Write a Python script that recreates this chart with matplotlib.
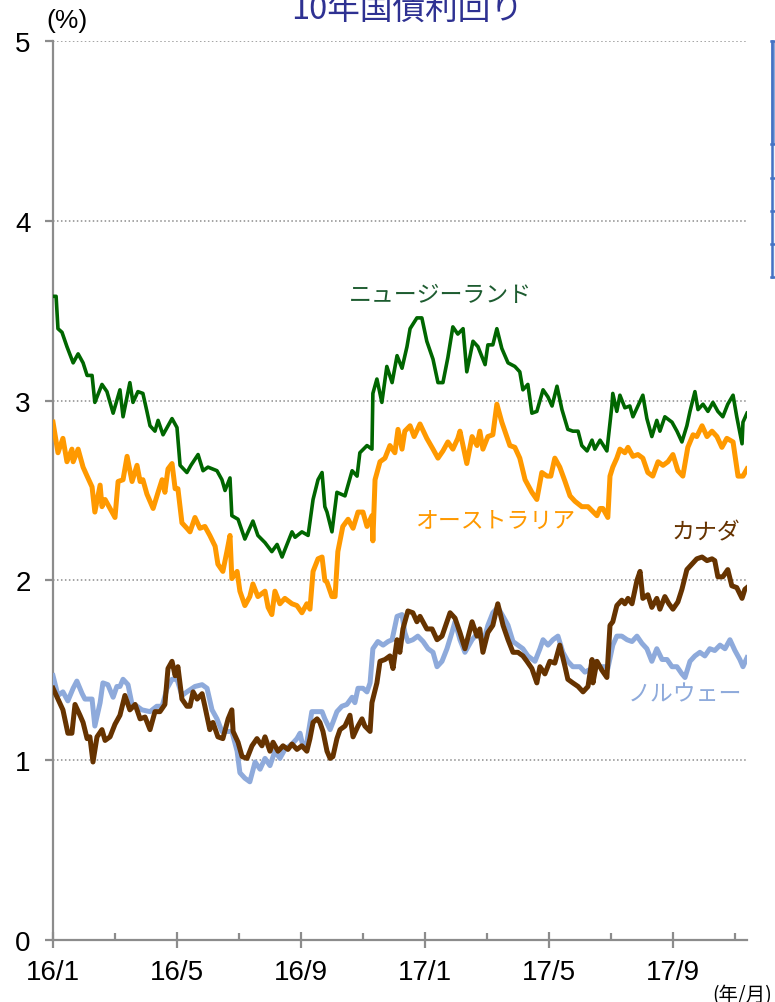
import matplotlib
matplotlib.use("Agg")
import matplotlib.pyplot as plt
from matplotlib import font_manager
from matplotlib.patches import Rectangle
from matplotlib.lines import Line2D

# ---------------- data (months since Jan-2016, yield %) ----------------
nz_month = [0.00,0.10,0.16,0.29,0.45,0.65,0.81,0.97,1.10,1.26,
            1.35,1.58,1.74,1.94,2.16,2.26,2.48,2.58,2.74,2.90,
            3.03,3.13,3.29,3.39,3.55,3.84,4.00,4.10,4.32,4.45,
            4.68,4.84,5.00,5.29,5.45,5.55,5.71,5.77,5.97,6.19,
            6.45,6.61,6.84,7.06,7.23,7.39,7.48,7.71,7.81,8.03,
            8.23,8.39,8.55,8.68,8.77,8.84,9.00,9.16,9.42,9.65,
            9.81,9.90,10.13,10.29,10.32,10.45,10.61,10.77,10.94,11.10,
            11.26,11.42,11.52,11.74,11.90,12.06,12.26,12.42,12.58,12.74,
            12.90,13.06,13.23,13.35,13.55,13.71,13.94,14.03,14.19,14.32,
            14.48,14.68,14.90,15.06,15.16,15.32,15.45,15.61,15.81,15.97,
            16.10,16.26,16.42,16.61,16.77,16.94,17.06,17.23,17.39,17.48,
            17.65,17.87,18.03,18.06,18.19,18.29,18.45,18.61,18.71,18.87,
            19.03,19.16,19.32,19.48,19.58,19.74,19.97,20.13,20.29,20.45,
            20.55,20.71,20.81,20.97,21.13,21.29,21.45,21.61,21.77,21.94,
            22.06,22.23,22.26,22.39]
nz_yield = [3.58,3.58,3.40,3.38,3.30,3.21,3.26,3.21,3.14,3.14,
            2.99,3.09,3.05,2.93,3.06,2.91,3.10,2.99,3.05,3.04,
            2.94,2.86,2.83,2.89,2.81,2.90,2.85,2.64,2.60,2.64,
            2.70,2.61,2.63,2.61,2.56,2.50,2.57,2.36,2.34,2.23,
            2.33,2.25,2.21,2.16,2.20,2.13,2.17,2.27,2.24,2.27,
            2.25,2.45,2.56,2.60,2.41,2.38,2.27,2.49,2.47,2.61,
            2.58,2.71,2.75,2.73,3.04,3.12,2.99,3.19,3.10,3.25,
            3.18,3.30,3.40,3.46,3.46,3.33,3.23,3.10,3.10,3.24,
            3.41,3.37,3.40,3.16,3.33,3.30,3.20,3.31,3.31,3.40,
            3.29,3.21,3.19,3.16,3.06,3.09,2.93,2.94,3.06,3.02,
            2.97,3.08,2.95,2.84,2.83,2.83,2.75,2.72,2.78,2.73,
            2.78,2.72,2.97,3.04,2.94,3.03,2.96,2.97,2.91,2.97,
            3.03,2.90,2.80,2.89,2.83,2.91,2.88,2.83,2.77,2.86,
            2.94,3.05,2.95,2.98,2.94,2.99,2.94,2.91,2.98,3.03,
            2.91,2.76,2.88,2.93]

au_month = [0.00,0.16,0.32,0.45,0.61,0.65,0.81,0.97,1.10,1.26,
            1.35,1.52,1.58,1.68,2.00,2.10,2.26,2.39,2.55,2.71,
            2.81,2.90,3.03,3.23,3.39,3.52,3.61,3.71,3.84,3.94,
            4.03,4.16,4.32,4.42,4.58,4.74,4.90,5.06,5.23,5.32,
            5.48,5.61,5.71,5.77,5.94,6.03,6.19,6.35,6.45,6.61,
            6.84,6.94,7.06,7.16,7.32,7.48,7.71,7.87,8.03,8.19,
            8.29,8.39,8.55,8.68,8.77,8.84,9.00,9.10,9.19,9.35,
            9.52,9.68,9.84,10.00,10.13,10.29,10.32,10.39,10.55,10.71,
            10.87,11.03,11.13,11.26,11.35,11.52,11.65,11.84,12.06,12.26,
            12.42,12.58,12.74,12.90,13.06,13.13,13.35,13.52,13.68,13.77,
            13.87,14.03,14.19,14.32,14.48,14.58,14.74,14.90,15.06,15.23,
            15.45,15.61,15.77,15.94,16.06,16.19,16.35,16.52,16.68,16.84,
            17.06,17.26,17.55,17.65,17.74,17.90,17.97,18.06,18.19,18.29,
            18.45,18.55,18.71,18.87,19.03,19.19,19.35,19.52,19.68,19.84,
            20.00,20.16,20.32,20.48,20.65,20.77,20.94,21.10,21.26,21.42,
            21.58,21.74,21.94,22.10,22.26,22.39]
au_yield = [2.88,2.71,2.79,2.66,2.73,2.66,2.73,2.63,2.58,2.52,
            2.38,2.53,2.41,2.45,2.35,2.55,2.56,2.69,2.55,2.64,
            2.55,2.56,2.48,2.40,2.49,2.56,2.49,2.62,2.65,2.51,
            2.51,2.32,2.29,2.27,2.35,2.29,2.30,2.25,2.19,2.09,
            2.05,2.16,2.25,2.01,2.05,1.94,1.86,1.91,1.98,1.91,
            1.94,1.85,1.81,1.94,1.87,1.90,1.87,1.86,1.82,1.87,
            1.84,2.05,2.12,2.13,2.00,1.99,1.91,1.91,2.16,2.30,
            2.34,2.29,2.38,2.38,2.30,2.36,2.22,2.56,2.66,2.68,
            2.75,2.71,2.84,2.73,2.83,2.86,2.80,2.87,2.79,2.73,
            2.68,2.72,2.77,2.73,2.79,2.83,2.65,2.80,2.75,2.83,
            2.73,2.80,2.81,2.98,2.88,2.83,2.75,2.74,2.68,2.56,
            2.49,2.45,2.60,2.58,2.58,2.68,2.63,2.55,2.47,2.44,
            2.41,2.41,2.36,2.40,2.40,2.35,2.58,2.63,2.68,2.73,
            2.71,2.74,2.69,2.70,2.68,2.60,2.58,2.66,2.64,2.66,
            2.70,2.61,2.58,2.74,2.81,2.80,2.86,2.80,2.83,2.80,
            2.74,2.79,2.77,2.58,2.58,2.62]

ca_month = [0.00,0.16,0.32,0.48,0.61,0.71,0.87,0.97,1.10,1.19,
            1.29,1.42,1.58,1.68,1.84,2.00,2.16,2.32,2.48,2.65,
            2.81,2.97,3.13,3.29,3.45,3.61,3.71,3.84,3.94,4.03,
            4.16,4.32,4.42,4.52,4.65,4.81,4.90,5.06,5.16,5.32,
            5.48,5.65,5.77,5.81,5.97,6.10,6.26,6.42,6.58,6.74,
            6.84,7.00,7.10,7.26,7.42,7.58,7.71,7.87,8.03,8.19,
            8.29,8.39,8.52,8.61,8.71,8.84,8.94,9.03,9.16,9.26,
            9.42,9.58,9.68,9.84,9.97,10.06,10.23,10.29,10.45,10.55,
            10.71,10.87,10.97,11.10,11.19,11.29,11.45,11.61,11.74,11.84,
            12.06,12.23,12.39,12.55,12.71,12.81,12.97,13.13,13.29,13.52,
            13.68,13.77,13.87,14.03,14.19,14.35,14.52,14.68,14.84,15.00,
            15.16,15.29,15.45,15.61,15.71,15.87,16.03,16.19,16.35,16.52,
            16.61,16.77,16.94,17.10,17.26,17.39,17.42,17.55,17.71,17.87,
            17.97,18.06,18.19,18.35,18.45,18.55,18.68,18.84,18.94,19.03,
            19.19,19.32,19.48,19.58,19.74,19.87,20.00,20.16,20.29,20.45,
            20.61,20.77,20.94,21.10,21.26,21.35,21.45,21.61,21.77,21.90,
            22.06,22.23,22.32,22.39]
ca_yield = [1.40,1.34,1.28,1.15,1.15,1.31,1.25,1.21,1.12,1.13,
            0.99,1.13,1.17,1.11,1.13,1.20,1.25,1.36,1.28,1.31,
            1.23,1.24,1.17,1.27,1.27,1.31,1.51,1.55,1.47,1.52,
            1.34,1.30,1.30,1.38,1.34,1.37,1.30,1.17,1.21,1.13,
            1.12,1.23,1.28,1.16,1.10,1.02,1.01,1.08,1.12,1.08,
            1.13,1.05,1.10,1.05,1.08,1.06,1.09,1.06,1.08,1.05,
            1.12,1.21,1.23,1.21,1.16,1.05,1.01,1.02,1.12,1.17,
            1.19,1.25,1.13,1.19,1.23,1.19,1.16,1.32,1.43,1.55,
            1.56,1.58,1.51,1.67,1.60,1.73,1.83,1.82,1.77,1.80,
            1.73,1.73,1.67,1.69,1.77,1.82,1.79,1.71,1.62,1.77,
            1.69,1.73,1.60,1.71,1.75,1.87,1.75,1.67,1.60,1.60,
            1.58,1.55,1.51,1.43,1.52,1.48,1.55,1.54,1.64,1.52,
            1.45,1.43,1.41,1.38,1.41,1.56,1.43,1.55,1.50,1.46,
            1.75,1.77,1.86,1.89,1.87,1.90,1.87,2.00,2.05,1.90,
            1.92,1.85,1.90,1.84,1.91,1.87,1.84,1.88,1.95,2.06,
            2.09,2.12,2.13,2.11,2.12,2.11,2.02,2.02,2.06,1.97,
            1.96,1.90,1.95,1.96]

no_month = [0.00,0.16,0.32,0.48,0.65,0.77,0.94,1.03,1.26,1.35,
            1.52,1.61,1.77,1.94,2.06,2.16,2.26,2.42,2.55,2.71,
            2.87,3.13,3.35,3.52,3.68,3.84,4.00,4.16,4.32,4.58,
            4.81,4.97,5.13,5.29,5.45,5.61,5.77,5.94,6.03,6.19,
            6.35,6.52,6.68,6.84,7.00,7.16,7.32,7.48,7.71,7.87,
            7.97,8.06,8.19,8.35,8.52,8.68,8.77,8.94,9.03,9.16,
            9.32,9.48,9.65,9.74,9.84,10.00,10.13,10.23,10.32,10.48,
            10.65,10.81,10.94,11.10,11.26,11.35,11.45,11.61,11.77,11.94,
            12.10,12.26,12.39,12.55,12.71,12.87,12.97,13.13,13.29,13.52,
            13.71,13.87,14.03,14.19,14.35,14.52,14.68,14.84,15.00,15.16,
            15.32,15.55,15.71,15.81,15.97,16.13,16.29,16.45,16.61,16.77,
            17.00,17.16,17.39,17.48,17.65,17.81,17.90,18.06,18.19,18.35,
            18.52,18.68,18.84,19.00,19.16,19.32,19.48,19.65,19.81,19.97,
            20.13,20.29,20.39,20.55,20.71,20.87,21.03,21.19,21.35,21.52,
            21.68,21.84,22.00,22.16,22.26,22.39]
no_yield = [1.47,1.36,1.38,1.33,1.40,1.44,1.37,1.34,1.34,1.19,
            1.32,1.43,1.42,1.35,1.41,1.41,1.45,1.42,1.31,1.30,
            1.28,1.27,1.30,1.30,1.40,1.45,1.45,1.36,1.38,1.41,
            1.42,1.40,1.28,1.23,1.16,1.16,1.16,1.05,0.93,0.90,
            0.88,0.99,0.95,1.01,0.97,1.05,1.01,1.06,1.09,1.12,
            1.15,1.08,1.10,1.27,1.27,1.27,1.23,1.17,1.21,1.27,
            1.30,1.31,1.35,1.32,1.40,1.40,1.38,1.43,1.62,1.66,
            1.64,1.66,1.67,1.80,1.81,1.71,1.66,1.67,1.69,1.66,
            1.62,1.60,1.52,1.55,1.62,1.71,1.77,1.67,1.60,1.67,
            1.71,1.65,1.75,1.82,1.85,1.80,1.75,1.66,1.64,1.62,
            1.58,1.55,1.62,1.67,1.64,1.67,1.69,1.60,1.55,1.52,
            1.52,1.49,1.51,1.55,1.52,1.52,1.51,1.64,1.69,1.69,
            1.67,1.66,1.69,1.65,1.62,1.55,1.62,1.56,1.56,1.52,
            1.52,1.48,1.46,1.55,1.58,1.60,1.58,1.62,1.61,1.64,
            1.62,1.67,1.61,1.56,1.52,1.57]

series_names = ["ノルウェー", "カナダ", "オーストラリア", "ニュージーランド"]
x_major_ticks = [0, 4, 8, 12, 16, 20]
x_major_labels = ["16/1", "16/5", "16/9", "17/1", "17/5", "17/9"]
x_minor_ticks = [2, 6, 10, 14, 18, 22]
y_ticks = [0, 1, 2, 3, 4, 5]
title_text = "10年国債利回り"

# ---------------- fonts ----------------
avail = {f.name for f in font_manager.fontManager.ttflist}
num_font = "Liberation Sans Narrow" if "Liberation Sans Narrow" in avail else "Liberation Sans"
JP = ["Noto Sans CJK JP", "DejaVu Sans"]

W, H = 775, 1003
fig = plt.figure(figsize=(W / 100, H / 100), dpi=100)
fig.patch.set_facecolor("white")

def fx(px):
    return px / W

def fy(py):
    return 1 - py / H

ax = fig.add_axes([fx(53), fy(941), fx(747) - fx(53), fy(42) - fy(941)])
ax.set_xlim(0, 22.39)
ax.set_ylim(0, 5)

grid_col = "#8c8c8c"
for s in ["top", "right"]:
    ax.spines[s].set_visible(False)
for s in ["left", "bottom"]:
    ax.spines[s].set_color("#8c8c8c")
    ax.spines[s].set_linewidth(1.6)

ax.set_yticks(y_ticks)
ax.set_yticklabels([str(v) for v in y_ticks], fontfamily=num_font, fontsize=20)
ax.yaxis.grid(True, color=grid_col, linestyle=(0, (1, 1.6)), linewidth=1.1)
ax.set_axisbelow(True)
ax.tick_params(axis="y", direction="out", length=6, width=1.6, color="#8c8c8c", pad=10)

ax.set_xticks(x_major_ticks)
ax.set_xticklabels(x_major_labels, fontfamily=num_font, fontsize=20)
ax.set_xticks(x_minor_ticks, minor=True)
ax.tick_params(axis="x", which="major", direction="inout", length=11, width=1.6,
               color="#8c8c8c", pad=8)
ax.tick_params(axis="x", which="minor", direction="in", length=5, width=1.6,
               color="#8c8c8c")

# ---------------- lines ----------------
ax.plot(no_month, no_yield, color="#8EAADB", lw=3.6, solid_joinstyle="round", zorder=3)
ax.plot(ca_month, ca_yield, color="#663300", lw=3.6, solid_joinstyle="round", zorder=4)
ax.plot(au_month, au_yield, color="#FF9900", lw=3.6, solid_joinstyle="round", zorder=5)
ax.plot(nz_month, nz_yield, color="#006600", lw=2.6, solid_joinstyle="round", zorder=6)

# ---------------- series labels ----------------
lab_fs = 16.5
fig.text(fx(440), fy(296), series_names[3], color="#1D5C30", fontsize=lab_fs,
         family=JP, ha="center", va="center")
fig.text(fx(495), fy(521), series_names[2], color="#FF9900", fontsize=lab_fs,
         family=JP, ha="center", va="center")
fig.text(fx(706), fy(533), series_names[1], color="#663300", fontsize=lab_fs,
         family=JP, ha="center", va="center")
fig.text(fx(685), fy(695), series_names[0], color="#8EAADB", fontsize=lab_fs,
         family=JP, ha="center", va="center")

# ---------------- titles / units ----------------
fig.text(fx(407), fy(19), title_text, color="#2E3192", fontsize=23.5,
         family=JP, ha="center", va="baseline")
fig.text(fx(46), fy(21), "(%)", color="#000000", fontsize=19,
         family=num_font, ha="left", va="center")
fig.text(fx(712), fy(985), "(年/月)", color="#000000", fontsize=14,
         family=JP, ha="left", va="top")

# ---------------- partially visible table at right edge ----------------
row_edges = [42, 145, 179, 212, 245, 278]
fig.add_artist(Rectangle((fx(771), fy(145)), fx(40), fy(42) - fy(145),
                         transform=fig.transFigure, facecolor="#8EAADB",
                         edgecolor="none", zorder=10))
fig.add_artist(Rectangle((fx(771), fy(278)), fx(40), fy(145) - fy(278),
                         transform=fig.transFigure, facecolor="#EEF2F9",
                         edgecolor="none", zorder=10))
fig.add_artist(Line2D([fx(772), fx(772)], [fy(42), fy(278)], transform=fig.transFigure,
                      color="#4472C4", lw=1.8, zorder=11))
for r in row_edges:
    fig.add_artist(Line2D([fx(771), fx(780)], [fy(r), fy(r)], transform=fig.transFigure,
                          color="#4472C4", lw=1.8, zorder=11))

fig.savefig("out.png", dpi=100, facecolor="white")
